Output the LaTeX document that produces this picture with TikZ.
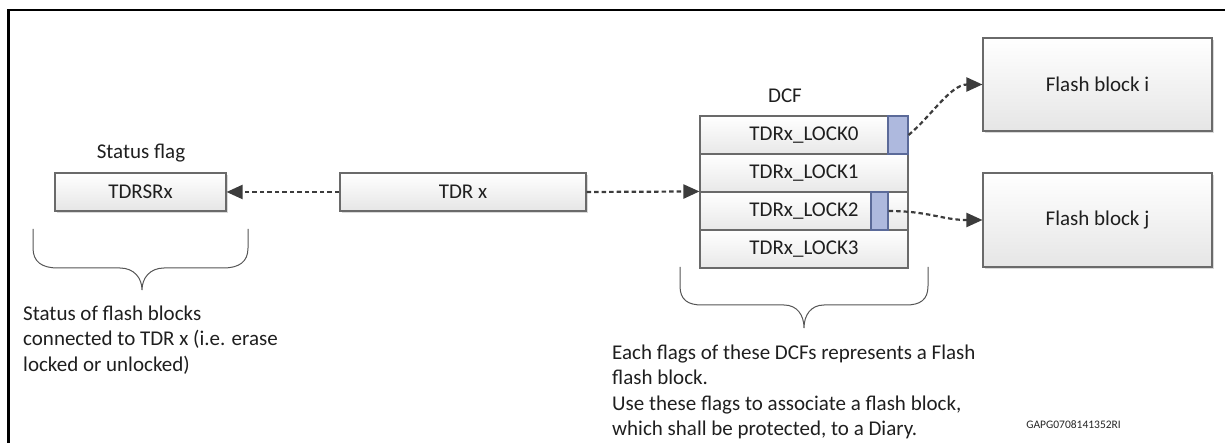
\documentclass[tikz,border=0pt]{standalone}
\usepackage{fontspec}
\setmainfont{Carlito}
\usetikzlibrary{arrows.meta,shadows}
\definecolor{boxline}{HTML}{6A6A6A}
\definecolor{arrowc}{HTML}{3C3C3C}
\definecolor{flagfill}{HTML}{AEB9DE}
\definecolor{flagline}{HTML}{5B6A99}
\definecolor{bracec}{HTML}{555555}
\tikzset{
  base/.style={font=\fontsize{21}{24}\selectfont, text=black!88},
  regbox/.style={base, draw=boxline, line width=1.1pt, top color=white, bottom color=black!10,
     drop shadow={shadow xshift=2pt, shadow yshift=-2pt, opacity=0.25, fill=black!60},
     minimum height=38pt, inner sep=0pt},
  rowbox/.style={base, draw=boxline, line width=1.1pt, top color=white, bottom color=black!9,
     minimum width=208pt, minimum height=38pt, inner sep=0pt},
  flagbox/.style={draw=flagline, line width=1.1pt, fill=flagfill, minimum height=38pt, inner sep=0pt},
  dasharrow/.style={draw=arrowc, line width=2.2pt, dash pattern=on 4.5pt off 3pt,
     -{Triangle[length=16pt,width=14pt]}},
  bracestyle/.style={draw=bracec, line width=1pt},
  note/.style={base, align=left, font=\fontsize{21}{25.5}\selectfont, inner sep=0pt},
}
\begin{document}
\begin{tikzpicture}[x=1pt,y=-1pt]
\useasboundingbox (0,0) rectangle (1225,443);
% frame
\draw[line width=2.6pt] (8.5,443) -- (8.5,10) -- (1225,10);

% left part
\node[base] (sflab) at (141,153) {Status flag};
\node[regbox, minimum width=171pt] (tdrsr) at (140.5,192) {TDRSRx};
\node[regbox, minimum width=246pt] (tdrx) at (463,192) {TDR x};

% DCF
\node[base] (dcflab) at (785,96) {DCF};
\node[rowbox] (r0) at (804,135) {TDRx\_LOCK0};
\node[rowbox] (r1) at (804,173) {TDRx\_LOCK1};
\node[rowbox] (r2) at (804,211) {TDRx\_LOCK2};
\node[rowbox] (r3) at (804,249) {TDRx\_LOCK3};
\node[flagbox, minimum width=20pt] (f0) at (898,135) {};
\node[flagbox, minimum width=17pt] (f2) at (879.5,211) {};

% flash blocks
\node[regbox, minimum width=229pt, minimum height=93pt] (fi) at (1097.5,84.5) {Flash block i};
\node[regbox, minimum width=229pt, minimum height=94pt] (fj) at (1097.5,220) {Flash block j};

% connectors
\draw[dasharrow] (tdrx.west) -- (tdrsr.east);
\draw[dasharrow] (tdrx.east) -- (r2.north west);
\draw[dasharrow] (f0.east) .. controls +(22,-18) and +(-32,0) .. (fi.west);
\draw[dasharrow] (f2.east) .. controls +(40,0) and +(-40,0) .. (fj.west);

% left brace
\draw[bracestyle] (33,229) -- (33,248) .. controls (33,262) and (42,268) .. (58,268)
  -- (120,268) .. controls (134,268) and (142,278) .. (142,290)
  .. controls (142,278) and (150,268) .. (164,268) -- (223,268)
  .. controls (239,268) and (248,262) .. (248,248) -- (248,229);
% right brace
\draw[bracestyle] (680,267) -- (680,286) .. controls (680,300) and (688,305) .. (702,305)
  -- (784,305) .. controls (797,305) and (804,315) .. (804,328)
  .. controls (804,315) and (811,305) .. (824,305) -- (906,305)
  .. controls (920,305) and (928,300) .. (928,286) -- (928,267);

% notes
\node[note, anchor=west] (lnote) at (23,340) {Status of flash blocks\\connected to TDR x (i.e. erase\\locked or unlocked)};
\node[note, anchor=west] (rnote) at (612,392) {Each flags of these DCFs represents a Flash\\flash block.\\Use these flags to associate a flash block,\\which shall be protected, to a Diary.};
\node[font=\fontsize{11.5}{12}\selectfont, text=black!85, inner sep=0pt, anchor=east] (code) at (1121,425) {GAPG0708141352RI};
\end{tikzpicture}
\end{document}
